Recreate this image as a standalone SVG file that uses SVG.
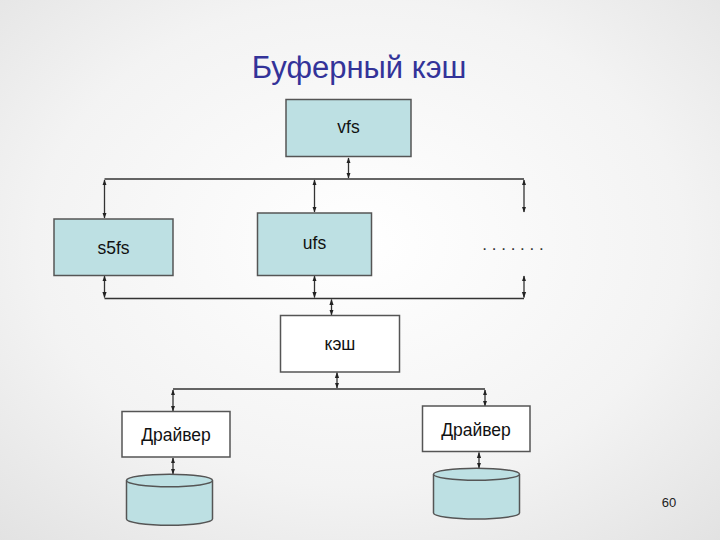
<svg xmlns="http://www.w3.org/2000/svg" width="720" height="540" viewBox="0 0 720 540">
  <defs>
    <radialGradient id="bg" cx="50%" cy="45%" r="75%">
      <stop offset="0" stop-color="#ffffff"/>
      <stop offset="0.6" stop-color="#f3f3f3"/>
      <stop offset="1" stop-color="#e2e2e2"/>
    </radialGradient>
    <marker id="ah" viewBox="0 0 10 10" refX="9" refY="5" markerWidth="6" markerHeight="6" orient="auto-start-reverse" markerUnits="userSpaceOnUse">
      <path d="M0,1.5 L10,5 L0,8.5 z" fill="#222"/>
    </marker>
    <style>
      .box { stroke: #555; stroke-width: 1.5; }
      .teal { fill: #bde0e3; }
      .white { fill: #ffffff; }
      .lbl { font-family: "Liberation Sans", Arial, sans-serif; font-size: 17.5px; fill: #111; text-anchor: middle; }
      .bus { stroke: #333; stroke-width: 1.5; fill: none; }
      .arr { stroke: #333; stroke-width: 1.3; fill: none; marker-start: url(#ah); marker-end: url(#ah); }
    </style>
  </defs>
  <rect width="720" height="540" fill="url(#bg)"/>
  <text x="359" y="78" font-family="Liberation Sans, Arial, sans-serif" font-size="31" fill="#333399" text-anchor="middle">Буферный кэш</text>

  <g id="connectors">
    <line class="bus" x1="104.5" y1="179" x2="524" y2="179"/>
    <line class="bus" x1="104.5" y1="298.5" x2="524" y2="298.5"/>
    <line class="bus" x1="173" y1="389" x2="485" y2="389"/>
    <line class="arr" x1="348.5" y1="158" x2="348.5" y2="178"/>
    <line class="arr" x1="104.5" y1="180" x2="104.5" y2="218"/>
    <line class="arr" x1="314.5" y1="180" x2="314.5" y2="212"/>
    <line class="arr" x1="524" y1="180" x2="524" y2="212"/>
    <line class="arr" x1="104.5" y1="276" x2="104.5" y2="297.5"/>
    <line class="arr" x1="314.5" y1="276" x2="314.5" y2="297.5"/>
    <line class="arr" x1="524" y1="276" x2="524" y2="297.5"/>
    <line class="arr" x1="331.5" y1="299.5" x2="331.5" y2="315"/>
    <line class="arr" x1="337" y1="372.5" x2="337" y2="388"/>
    <line class="arr" x1="173" y1="390" x2="173" y2="411"/>
    <line class="arr" x1="485" y1="390" x2="485" y2="406"/>
    <line class="arr" x1="173" y1="458" x2="173" y2="474"/>
    <line class="arr" x1="479" y1="452.5" x2="479" y2="468"/>
  </g>

  <g id="vfs">
    <rect class="box teal" x="286" y="99.5" width="125" height="57"/>
    <text class="lbl" x="348.5" y="133">vfs</text>
  </g>
  <g id="s5fs">
    <rect class="box teal" x="54" y="219" width="119" height="56.5"/>
    <text class="lbl" x="113.5" y="254">s5fs</text>
  </g>
  <g id="ufs">
    <rect class="box teal" x="257.5" y="213" width="114" height="62.5"/>
    <text class="lbl" x="314.5" y="249">ufs</text>
  </g>
  <g id="dots">
    <text x="513" y="250" font-family="Liberation Sans, Arial, sans-serif" font-size="17" fill="#333" text-anchor="middle">. . . . . . .</text>
  </g>
  <g id="cache">
    <rect class="box white" x="280.5" y="315.5" width="119" height="56.5"/>
    <text class="lbl" x="340" y="350">кэш</text>
  </g>
  <g id="driver1">
    <rect class="box white" x="122" y="411.5" width="108" height="45.5"/>
    <text class="lbl" x="176" y="441">Драйвер</text>
  </g>
  <g id="driver2">
    <rect class="box white" x="422.5" y="406" width="107.5" height="45.5"/>
    <text class="lbl" x="476" y="436">Драйвер</text>
  </g>
  <g id="disk1">
    <path class="box teal" d="M126.5,480.5 L126.5,519 A43,6.2 0 0 0 212.5,519 L212.5,480.5"/>
    <ellipse class="box teal" cx="169.5" cy="480.5" rx="43" ry="6.2"/>
  </g>
  <g id="disk2">
    <path class="box teal" d="M433.5,474.2 L433.5,513 A43,6 0 0 0 519.5,513 L519.5,474.2"/>
    <ellipse class="box teal" cx="476.5" cy="474.2" rx="43" ry="6"/>
  </g>
  <text x="669" y="507" font-family="Liberation Sans, Arial, sans-serif" font-size="13" fill="#222" text-anchor="middle">60</text>
</svg>
